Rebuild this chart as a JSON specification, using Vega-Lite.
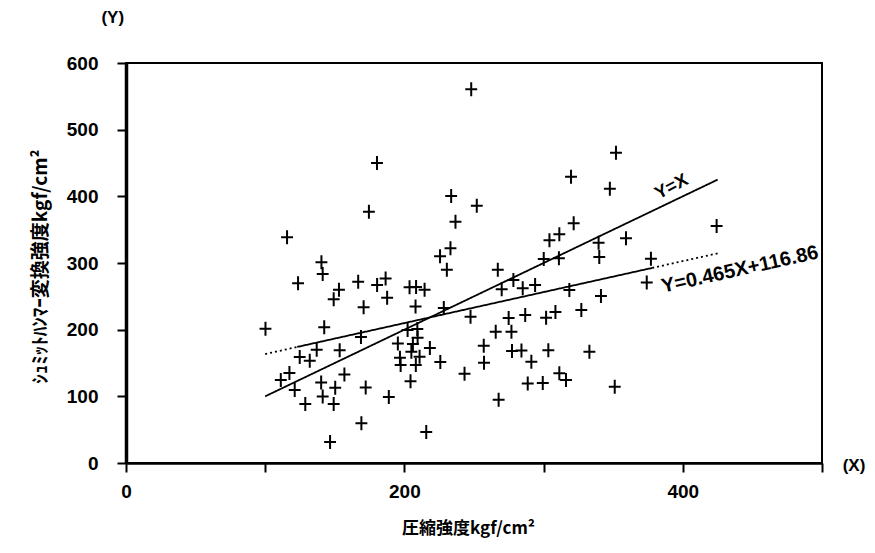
{
  "$schema": "https://vega.github.io/schema/vega-lite/v6.json",
  "width": 696,
  "height": 400,
  "autosize": "none",
  "padding": {"left": 126, "top": 63, "right": 53, "bottom": 90},
  "background": "white",
  "config": {
    "view": {"stroke": "black", "strokeWidth": 2},
    "font": "Liberation Sans"
  },
  "datasets": {
    "points": [
      {"x":174.5,"y":377},{"x":115.7,"y":338.6},{"x":236.7,"y":362},{"x":140.4,"y":301},{"x":141.3,"y":283.5},
      {"x":225.6,"y":310},{"x":233.1,"y":322},{"x":230.5,"y":290},{"x":123.6,"y":269.5},{"x":153,"y":260},
      {"x":149.2,"y":245.7},{"x":166.8,"y":272},{"x":180.4,"y":267},{"x":186.5,"y":276.7},{"x":187.6,"y":248},
      {"x":203.7,"y":263.5},{"x":208.4,"y":264},{"x":214.5,"y":260},{"x":170.7,"y":233.5},{"x":208,"y":234.7},
      {"x":228.3,"y":232.5},{"x":100.2,"y":201.5},{"x":142.4,"y":203.5},{"x":168.8,"y":189},{"x":137,"y":170},
      {"x":124.8,"y":159},{"x":132,"y":153.5},{"x":153.5,"y":169},{"x":117.4,"y":135},{"x":111.2,"y":124.5},
      {"x":121.2,"y":109.5},{"x":140.2,"y":120.7},{"x":150.3,"y":112.8},{"x":156.9,"y":132.7},{"x":128.8,"y":88.5},
      {"x":141.3,"y":99.7},{"x":149.2,"y":88.5},{"x":172.2,"y":113.2},{"x":188.8,"y":99},{"x":169.1,"y":59.5},
      {"x":146.6,"y":31.5},{"x":215.7,"y":46.5},{"x":202.3,"y":199.5},{"x":209.3,"y":201},{"x":195.3,"y":179.2},
      {"x":206.1,"y":178.5},{"x":218.3,"y":172.5},{"x":205,"y":167},{"x":196.8,"y":157.8},{"x":197.3,"y":147},
      {"x":210.9,"y":159.5},{"x":208.2,"y":147},{"x":225.8,"y":151.5},{"x":204.4,"y":122.5},{"x":209.5,"y":188},
      {"x":252,"y":386},{"x":321.6,"y":359.5},{"x":304.2,"y":334},{"x":311.3,"y":343},{"x":359.2,"y":337},
      {"x":300.1,"y":306},{"x":311,"y":307},{"x":339.5,"y":330.5},{"x":340,"y":309},{"x":267.1,"y":290},
      {"x":278.3,"y":274.5},{"x":269.9,"y":260.5},{"x":285,"y":262},{"x":293.9,"y":267},{"x":318.5,"y":259.5},
      {"x":341.2,"y":250.5},{"x":247.5,"y":219.5},{"x":274.9,"y":217.5},{"x":286.8,"y":222},{"x":301.8,"y":218},
      {"x":308.5,"y":226.5},{"x":327.1,"y":229.5},{"x":265.6,"y":197},{"x":276.9,"y":197},{"x":257,"y":175.8},
      {"x":257.2,"y":150.5},{"x":277.3,"y":168},{"x":284.1,"y":168.7},{"x":291.2,"y":152},{"x":303.4,"y":169},
      {"x":332.9,"y":167},{"x":243.2,"y":134},{"x":311.3,"y":134.5},{"x":316.1,"y":124.5},{"x":288.6,"y":119.3},
      {"x":299.4,"y":120},{"x":351.1,"y":114.5},{"x":267.7,"y":95},{"x":352,"y":465.5},{"x":319.7,"y":429.5},
      {"x":347.6,"y":411.5},{"x":424.3,"y":355.5},{"x":377.1,"y":306.3},{"x":374.1,"y":270.7},{"x":248,"y":560.5},
      {"x":180.3,"y":450},{"x":233.6,"y":400.5}
    ],
    "lines": [
      {"x":100,"y":100,"seg":"eq","style":"solid"},{"x":425,"y":425,"seg":"eq","style":"solid"},
      {"x":100,"y":163.4,"seg":"r1","style":"dotted"},{"x":123,"y":174.1,"seg":"r1","style":"dotted"},
      {"x":123,"y":174.1,"seg":"r2","style":"solid"},{"x":378,"y":292.6,"seg":"r2","style":"solid"},
      {"x":378,"y":292.6,"seg":"r3","style":"dotted"},{"x":425,"y":314.5,"seg":"r3","style":"dotted"}
    ]
  },
  "encoding": {
    "x": {
      "field": "x", "type": "quantitative",
      "scale": {"domain": [0, 500], "nice": false, "zero": false},
      "axis": {
        "title": "圧縮強度kgf/cm²",
        "values": [0, 100, 200, 300, 400, 500],
        "labelExpr": "datum.value % 200 == 0 ? datum.label : ''",
        "grid": false, "tickSize": 9, "tickWidth": 2, "tickColor": "black",
        "domainColor": "black", "domainWidth": 2.5,
        "labelFontSize": 19, "labelFontWeight": "bold", "labelColor": "black",
        "labelPadding": 10, "labelFlush": false,
        "titleFont": "Noto Sans CJK JP", "titleFontSize": 17, "titleFontWeight": "bold", "titleColor": "black",
        "titleX": 342, "titleY": 65, "titleAlign": "center", "titleBaseline": "middle"
      }
    },
    "y": {
      "field": "y", "type": "quantitative",
      "scale": {"domain": [0, 600], "nice": false, "zero": false},
      "axis": {
        "title": "ｼｭﾐｯﾄﾊﾝﾏｰ変換強度kgf/cm²",
        "values": [0, 100, 200, 300, 400, 500, 600],
        "grid": false, "tickSize": 9, "tickWidth": 2, "tickColor": "black",
        "domainColor": "black", "domainWidth": 3.5,
        "labelFontSize": 19, "labelFontWeight": "bold", "labelColor": "black",
        "labelPadding": 19, "labelFlush": false,
        "titleFont": "Noto Sans CJK JP", "titleFontSize": 19, "titleFontWeight": "bold", "titleColor": "black",
        "titleX": -86, "titleY": 203, "titleAngle": 270, "titleAlign": "center", "titleBaseline": "middle"
      }
    }
  },
  "layer": [
    {
      "data": {"name": "lines"},
      "mark": {"type": "line", "color": "black", "strokeWidth": 1.8},
      "encoding": {
        "detail": {"field": "seg"},
        "strokeDash": {
          "field": "style", "type": "nominal",
          "scale": {"domain": ["solid", "dotted"], "range": [[1, 0], [2, 3]]},
          "legend": null
        }
      }
    },
    {
      "data": {"name": "points"},
      "mark": {
        "type": "point", "shape": "M-0.85,0H0.85M0,-1V1", "size": 196,
        "filled": false, "stroke": "black", "strokeWidth": 2, "opacity": 1
      }
    },
    {
      "data": {"values": [{"x": 392, "y": 414, "t": "Y=X"}]},
      "mark": {"type": "text", "angle": 332, "fontSize": 18, "fontWeight": "bold", "color": "black"},
      "encoding": {"text": {"field": "t"}}
    },
    {
      "data": {"values": [{"x": 441, "y": 290, "t": "Y=0.465X+116.86"}]},
      "mark": {"type": "text", "angle": 347.5, "fontSize": 20, "fontWeight": "bold", "color": "black"},
      "encoding": {"text": {"field": "t"}}
    },
    {
      "data": {"values": [{"x": -9.5, "y": 667, "t": "(Y)"}, {"x": 523, "y": -5, "t": "(X)"}]},
      "mark": {"type": "text", "fontSize": 17, "fontWeight": "bold", "color": "black"},
      "encoding": {"text": {"field": "t"}}
    }
  ]
}
